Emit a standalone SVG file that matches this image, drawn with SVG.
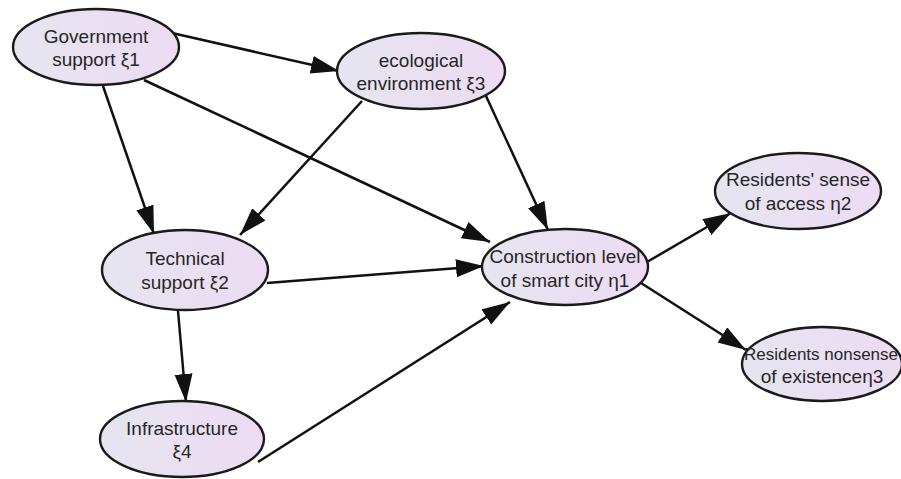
<svg xmlns="http://www.w3.org/2000/svg" width="901" height="479" viewBox="0 0 901 479">
<defs>
<linearGradient id="g" x1="0" y1="0" x2="1" y2="0">
<stop offset="0" stop-color="#e5e5f0"/>
<stop offset="1" stop-color="#eddbf3"/>
</linearGradient>
<marker id="ah" markerUnits="userSpaceOnUse" markerWidth="30" markerHeight="20" refX="28" refY="9" orient="auto" viewBox="0 0 30 20">
<path d="M0,0 L28,9 L0,18 z" fill="#111"/>
</marker>
<style>
.n ellipse{fill:url(#g);stroke:#1a1a1a;stroke-width:2.4}
.n text{font-family:"Liberation Sans",Arial,sans-serif;font-size:19px;fill:#262626;text-anchor:middle}
.n text.sm{font-size:17px}
#edges line{stroke:#111;stroke-width:2.5;marker-end:url(#ah)}
</style>
</defs>
<rect width="901" height="479" fill="#fff"/>
<g id="edges">
<line x1="172" y1="33" x2="339" y2="71"/>
<line x1="103" y1="86" x2="154" y2="234"/>
<line x1="144" y1="80" x2="490" y2="242"/>
<line x1="362" y1="101" x2="240" y2="235"/>
<line x1="486" y1="96" x2="548" y2="230"/>
<line x1="267" y1="283" x2="484" y2="266"/>
<line x1="178" y1="311" x2="186" y2="402"/>
<line x1="258" y1="462" x2="510" y2="302"/>
<line x1="647" y1="262" x2="731" y2="213"/>
<line x1="641" y1="283" x2="746" y2="350"/>
</g>
<g id="gov" class="n"><ellipse cx="96" cy="47" rx="83" ry="38"/><text x="96" y="43">Government</text><text x="96" y="66">support ξ1</text></g>
<g id="eco" class="n"><ellipse cx="421" cy="71" rx="84" ry="38"/><text x="421" y="67">ecological</text><text x="421" y="90">environment ξ3</text></g>
<g id="tech" class="n"><ellipse cx="185" cy="270" rx="83" ry="40"/><text x="185" y="265">Technical</text><text x="185" y="289">support ξ2</text></g>
<g id="con" class="n"><ellipse cx="565" cy="267" rx="83" ry="38"/><text x="565" y="263">Construction level</text><text x="565" y="287">of smart city η1</text></g>
<g id="res2" class="n"><ellipse cx="798" cy="191" rx="83" ry="38"/><text x="798" y="186">Residents' sense</text><text x="798" y="210">of access  η2</text></g>
<g id="res3" class="n"><ellipse cx="822" cy="364" rx="80" ry="37"/><text class="sm" x="821" y="360">Residents nonsense</text><text x="822" y="383">of existenceη3</text></g>
<g id="infra" class="n"><ellipse cx="182" cy="439" rx="82" ry="38"/><text x="182" y="435">Infrastructure</text><text x="182" y="458">ξ4</text></g>
</svg>
